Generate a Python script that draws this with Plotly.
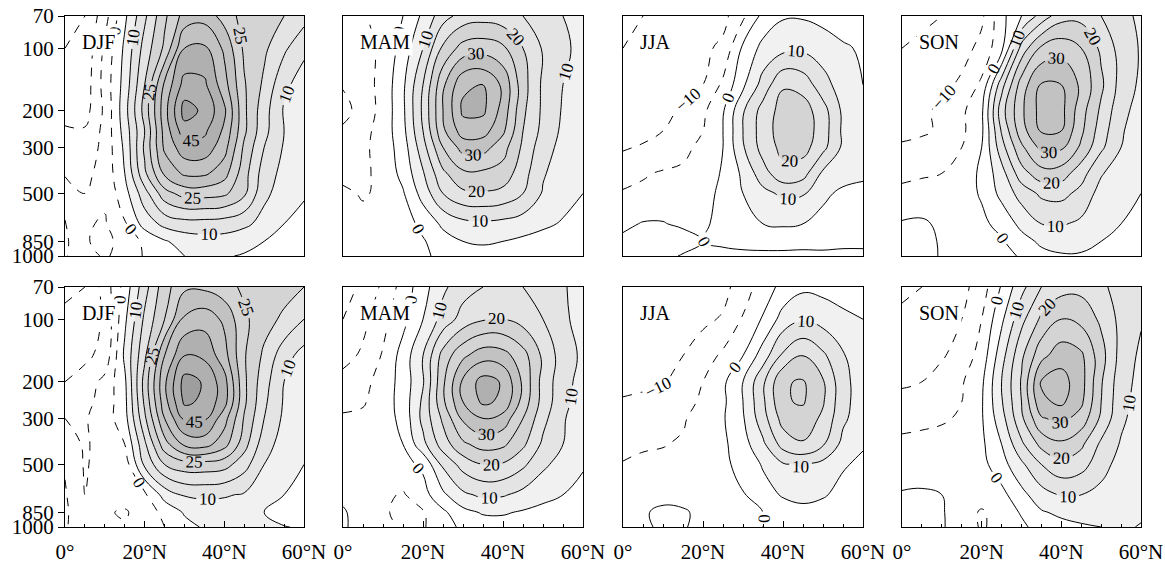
import math
import plotly.graph_objects as go

# ---------------- data ----------------
lats = [0, 5, 10, 15, 20, 25, 30, 35, 40, 45, 50, 55, 60]
levels = [1000, 850, 700, 500, 400, 300, 250, 200, 150, 100, 70]
seasons = ["DJF", "MAM", "JJA", "SON"]

# zonal wind (m/s), rows follow `levels`, columns follow `lats`
u_top_djf = [
    [0.5, -3.5, -5.5, -3.5, 0.5, 3, 5, 6, 5.5, 4.5, 3, 2, 1],
    [1, -4.5, -6.5, -3, 1, 4.5, 7, 8, 8, 7, 5, 3.5, 2.5],
    [0.5, -4.5, -5.5, -0.5, 7, 11.5, 13, 13, 12.5, 11, 8.5, 5, 3.5],
    [-3.5, -5, -4, 3, 13, 23, 27, 27, 26, 21, 11, 8, 5.5],
    [-5.3, -6, -3.5, 5, 19, 31, 36, 36, 32, 22, 12.5, 8.5, 6],
    [-7, -8, -3.5, 6, 21, 36, 43, 43, 37, 24, 15, 9.5, 6.5],
    [-9, -9.5, -3.5, 7, 20, 37, 48, 46, 39, 26, 16.5, 10, 6.5],
    [-13, -12, -4, 8, 22, 38, 52, 49, 41, 26, 17, 9.5, 6],
    [-14, -13, -3, 7, 20, 36, 47, 46, 37, 25.5, 19, 11, 8],
    [-15, -14, -4, 6, 17, 26, 40, 41, 34, 24, 21, 16, 11],
    [-18, -15, -7, 4, 14, 24, 32, 33, 28, 23, 22, 20, 17],
]
u_top_mam = [
    [-2, -2.5, -3, -2.5, -1, 1.5, 3, 3.5, 3, 2.5, 2, 1.5, 1],
    [-2.5, -3, -3, -2.5, -0.5, 3, 5, 5.5, 5, 4, 3, 2, 1.5],
    [-3, -3.5, -3.5, -2.5, 1.5, 6, 8.5, 9, 8.5, 7.5, 6, 4.5, 3.5],
    [-4, -5.5, -4, -0.5, 7, 15, 19, 19.5, 18.5, 15, 9.5, 7, 5],
    [-6.5, -6, -3.5, 1.5, 9.5, 19, 24, 24, 23, 17, 10.5, 7.5, 5.5],
    [-8, -6, -3, 2.5, 13, 25, 32, 32, 27, 19, 12, 8.5, 6],
    [-9, -6.5, -3, 3.5, 15, 29, 37.5, 37, 31, 20, 13.5, 9, 6.5],
    [-12, -7.5, -3.5, 4, 16, 30, 41, 41, 33, 21, 14, 9.5, 7],
    [-9.5, -7, -3.5, 4, 15, 29, 39, 40, 34, 22, 14, 10, 7.5],
    [-8, -6.5, -4, 2, 10, 21, 27, 28, 26, 20, 14.5, 11, 8.5],
    [-6, -5.5, -3, 0, 6, 13, 17, 18, 17, 15, 12, 10, 8.5],
]
u_top_jja = [
    [1.5, 2, 1.5, -0.5, -1.5, -1.5, -1.5, -1.5, -1.5, -1.5, -1, -1, -0.8],
    [1, 3, 4, 2.5, 0, 1, 2, 2.5, 2.5, 2, 1.5, 1, 0.8],
    [-1, 0.3, 0.3, -1, -0.8, 1.5, 3.5, 5, 5.5, 5, 3.5, 2.5, 2],
    [-4.5, -4, -3.5, -3, -1.5, 1, 5, 8.5, 11, 10.5, 6, 4, 3.5],
    [-7, -5.5, -4.5, -4, -2.5, 0.5, 6, 13, 18.5, 17, 9, 7, 6],
    [-10.5, -9.5, -8.5, -6.5, -3.5, 0, 9.5, 17, 21.5, 22, 16.5, 9, 6.5],
    [-12.5, -11.5, -10, -8, -5, 0, 10, 17.5, 22.5, 23, 17.5, 9, 6.5],
    [-14, -13, -11, -9.5, -6, -0.5, 9.5, 17, 22, 22.5, 17, 9, 6.5],
    [-14.5, -13.5, -12.5, -11.5, -10, -4, 4, 12, 19.5, 18, 12, 7.5, 5],
    [-15, -14, -13, -12, -11, -9, 1, 6.5, 8.5, 9, 7.5, 5.5, 4.5],
    [-16, -15, -14, -13, -12, -11.5, -6, 1.5, 4.5, 4.5, 3.5, 3, 2.5],
]
u_top_son = [
    [1, 1.2, -0.3, -1.5, -2, -1.5, 0.5, 3.5, 4.5, 4.5, 4, 3, 2.5],
    [1, 1.5, -0.5, -2, -2, -0.5, 3, 6, 7, 6.5, 5, 4.5, 3.5],
    [0.5, 0.8, -1, -2.5, -1, 1.5, 6.5, 10, 10.5, 9, 6.5, 5, 4.8],
    [-4, -3.5, -3, -2, 0.5, 6.5, 12, 16, 16.5, 13.5, 8, 6, 5],
    [-6, -5.5, -5, -3, 1, 8, 18, 23, 22.5, 17, 10.5, 7, 5.5],
    [-9.5, -9, -8, -5, 0, 13, 24, 31.5, 31, 24, 16, 10, 7],
    [-11, -10.5, -9.5, -6, -1, 15.5, 28, 35.5, 35, 26, 17.5, 10.5, 7.5],
    [-12, -11, -9, -6, -1, 18, 29, 37, 36.5, 27, 19, 11.5, 8],
    [-13, -12.5, -11.5, -9, -4, 13, 27.5, 35.5, 35, 29, 21, 13, 9],
    [-15, -14, -13, -12, -8.5, -1.5, 17, 26, 28, 25, 19, 13, 9.5],
    [-17, -16, -15, -13, -11, -1.5, 5, 12, 18, 18.5, 15, 11.5, 9],
]
u_bot_djf = [
    [0.5, -3, -4, -4.5, -3, 0, 3.5, 5.5, 6, 6, 5.5, 5.2, 4.5],
    [1, -4.5, -4.5, -5.5, -3, 1.5, 5.5, 7, 7.5, 7, 5, 3, 2],
    [0.5, -5, -3.5, -3, -1, 7, 10.5, 11, 10.5, 9.5, 7.5, 5, 3.5],
    [-0.5, -5.5, -3, -3, 11, 20, 23, 23, 22, 17, 10, 7, 5],
    [-3, -5.5, -3.5, 0, 14, 28, 36, 37, 32, 22, 12, 8, 5.5],
    [-5, -5.5, -2.5, 3, 19, 35, 46, 46, 37, 24.5, 15, 9, 6],
    [-7, -6.5, -3, 3.5, 21, 38, 51, 49, 42, 26, 16, 9.5, 6.5],
    [-10, -8, -3.5, 4, 22, 39, 52, 49.5, 42, 26, 17, 10, 6.5],
    [-12, -11, -8.5, 6, 19, 35, 45, 44, 37, 25.5, 19, 12, 8],
    [-13, -12, -9.5, 4, 16, 25, 36, 38, 34, 26, 22, 19, 15],
    [-17, -15, -8, 2, 13, 23, 29, 29, 27, 24, 23, 22, 20],
]
u_bot_mam = [
    [0.5, -1.5, -3.5, -5.5, -5.5, -2, 1, 2.5, 3, 3, 2.5, 2.5, 3],
    [0.5, -2, -4.5, -6, -5.5, -1, 3.5, 5.5, 5.5, 4.5, 3.5, 2.5, 2],
    [-1, -2, -4, -5.5, -2, 4, 9, 11, 10.5, 8.5, 6.5, 5, 3.5],
    [-2, -2.5, -2.5, -1.5, 1, 11, 17, 20, 19.5, 16, 11, 8, 5.5],
    [-3, -3, -2.5, 0, 8.5, 17.5, 24, 27, 26, 21, 14, 10, 6.5],
    [-4.5, -4, -2.5, 1.5, 11.5, 21, 31, 35, 33, 25, 16.5, 10.5, 7],
    [-6, -5.5, -2.5, 2, 11, 24, 35, 41, 39, 28, 18, 11.5, 7.5],
    [-8, -6.5, -3, 2, 9.5, 24, 36, 42, 39.5, 29, 18, 12, 8],
    [-12, -9, -4.5, 2, 10, 22, 29, 33, 32, 27, 19, 12.5, 9],
    [-15, -11.5, -6.5, -1.5, 5, 12, 17, 19.5, 20, 18, 15, 11, 8],
    [-17, -14, -9, -3, 3, 9, 13, 15, 16, 15, 13, 10.5, 8],
]
u_bot_jja = [
    [-1.5, -0.5, 0.5, 0.3, -1, -1.5, -1, 0, 1.5, 2, 2, 1.5, 1],
    [-1.5, -0.5, 1, 0.5, -1, -1.5, -1, 0, 2.5, 3.5, 3, 2, 1.5],
    [-2.5, -2, -1.5, -1.5, -1.5, -1, -0.3, 3, 5.5, 6.5, 5.5, 3.5, 2.5],
    [-4.8, -4.2, -4, -3.5, -2.5, -1, 1.5, 5.5, 9.5, 10.5, 8.5, 5.5, 4],
    [-6, -5.5, -5.2, -4.5, -2.5, -1, 3, 9, 17, 19.5, 15.5, 8.5, 5.5],
    [-8, -7.5, -7, -5.5, -3, -0.5, 4.5, 13, 22, 23, 19, 11, 7],
    [-9.5, -9, -8.5, -7, -4, -1, 5, 14, 24.5, 25.5, 20.5, 11.5, 7.5],
    [-11.5, -11, -10.5, -8, -5, -1, 5, 14, 24.5, 25.5, 20.5, 11.5, 7.5],
    [-12.5, -12, -11.5, -10, -7.5, -4, 0, 7.5, 16, 20, 16, 10.5, 7],
    [-13, -12.5, -12, -11.5, -11, -9.5, -4.5, 0.5, 7, 9.5, 8, 6, 5],
    [-15, -14, -13, -12.5, -12, -11.5, -7.5, -2.5, 1.5, 4, 3.5, 3, 2.5],
]
u_bot_son = [
    [1, 1.2, 0.5, -2.5, -5.5, -3.5, -1, 2, 3.5, 4.5, 5, 5.5, 4.8],
    [1, 1.5, 0.5, -3, -5.5, -3, 0.5, 4.5, 6, 6.5, 6.5, 6, 5.5],
    [0.5, 0.8, 0, -2, -3, -1.5, 3.5, 8, 10.5, 10, 8.5, 6.5, 5],
    [-3, -3, -3, -2.5, -1.5, 3, 9, 15, 18.5, 17, 12, 8, 5.5],
    [-4, -3.8, -3.5, -3, -1, 5, 14, 21.5, 24, 21, 14, 9.5, 6.5],
    [-6.5, -6, -5.5, -4.5, -0.5, 8, 19, 29.5, 31.5, 28, 19, 11, 7.5],
    [-9, -8.5, -7, -5, -0.5, 9.5, 20, 34, 36, 31, 20, 11.5, 8],
    [-10.5, -10, -8, -5.5, -1, 10, 20.5, 35.5, 37, 32, 20.5, 12, 8.5],
    [-12.5, -12, -10.5, -8, -3, 8, 19, 28.5, 33, 31, 22, 13, 9],
    [-14, -13, -12, -10, -5, 4, 13.5, 21, 25, 23.5, 19, 13.5, 10.5],
    [-16, -15, -13.5, -11.5, -7.5, 0.5, 8.5, 15, 18, 18.5, 16, 13, 11],
]

# contour values that carry a label in each panel
labels_top = {"DJF": [-10, 0, 10, 25, 45], "MAM": [0, 10, 20, 30],
              "JJA": [-10, 0, 10, 20], "SON": [-10, 0, 10, 20, 30]}
labels_bot = {"DJF": [0, 10, 25, 45], "MAM": [0, 10, 20, 30],
              "JJA": [-10, 0, 10], "SON": [-10, 0, 10, 20, 30]}

ytick_vals = [70, 100, 200, 300, 500, 850, 1000]
ytick_text = ["70", "100", "200", "300", "500", "850", "1000"]
xtick_vals = [0, 20, 40, 60]
xtick_text = ["0°", "20°N", "40°N", "60°N"]

line_levels = list(range(-20, 60, 5))
shade_edges = [5, 10, 20, 30, 40, 50]
shade_colors = ["#ffffff", "#f1f1f1", "#e4e4e4", "#d4d4d4", "#c2c2c2", "#b0b0b0", "#9e9e9e"]

# ---------------- layout geometry (pixels) ----------------
W, H = 1165, 565
col_l = [65, 343, 623, 902]
col_r = [304, 583, 863, 1141]
row_t = [16, 287]
row_b = [256, 527]
SERIF = "Liberation Serif, Times New Roman, serif"

def px(xs):
    return xs / W

def py(ys):
    return 1 - ys / H

# fill colourscale (plotly maps band midpoints between start-size/2 and end+size/2)
f_start, f_end, f_size = 5, 55, 5
lo, hi = f_start - f_size / 2, f_end + f_size / 2
def pos(v):
    return (v - lo) / (hi - lo)
fill_cs = [[0, shade_colors[0]]]
for i, e in enumerate(shade_edges):
    fill_cs.append([pos(e), shade_colors[i]])
    fill_cs.append([pos(e), shade_colors[i + 1]])
fill_cs.append([1, shade_colors[-1]])

panels = [
    (0, 0, "DJF", u_top_djf), (0, 1, "MAM", u_top_mam), (0, 2, "JJA", u_top_jja), (0, 3, "SON", u_top_son),
    (1, 0, "DJF", u_bot_djf), (1, 1, "MAM", u_bot_mam), (1, 2, "JJA", u_bot_jja), (1, 3, "SON", u_bot_son),
]

fig = go.Figure()
annotations = []
layout_axes = {}
LABEL_PAD_LEVELS = 45   # empty far-away levels: lets plotly place several labels on one line

for k, (r, c, name, z) in enumerate(panels, start=1):
    xa = "x" if k == 1 else f"x{k}"
    ya = "y" if k == 1 else f"y{k}"
    zmin = min(min(row) for row in z)
    zmax = max(max(row) for row in z)
    labset = (labels_top if r == 0 else labels_bot)[name]

    fig.add_trace(go.Contour(
        x=lats, y=levels, z=z, xaxis=xa, yaxis=ya,
        autocontour=False,
        contours=dict(start=f_start, end=f_end, size=f_size, coloring="fill", showlines=False),
        colorscale=fill_cs, showscale=False, line=dict(width=0, smoothing=1.2),
        hoverinfo="skip",
    ))
    for lev in line_levels:
        if lev < zmin or lev > zmax:
            continue
        dashed = lev < 0 or (name == "DJF" and lev == 0)
        labelled = lev in labset
        if labelled:
            cont = dict(start=lev, end=lev + 1000 * LABEL_PAD_LEVELS, size=1000, coloring="none",
                        showlabels=True, labelformat="d",
                        labelfont=dict(family=SERIF, size=17, color="black"))
        else:
            cont = dict(start=lev, end=lev, size=5, coloring="none", showlabels=False)
        fig.add_trace(go.Contour(
            x=lats, y=levels, z=z, xaxis=xa, yaxis=ya,
            autocontour=False, contours=cont,
            line=dict(color="black", width=1, dash="dash" if dashed else "solid", smoothing=1.2),
            showscale=False, hoverinfo="skip",
        ))

    xdom = [px(col_l[c]), px(col_r[c])]
    ydom = [py(row_b[r]), py(row_t[r])]
    xaxis = dict(domain=xdom, range=[0, 60], showline=True, mirror=True, linecolor="black",
                 linewidth=1, showgrid=False, zeroline=False, anchor=ya, automargin=False)
    if r == 1:
        xaxis.update(tickmode="array", tickvals=xtick_vals, ticktext=xtick_text, ticks="inside",
                     ticklen=6, tickcolor="black", ticklabelstandoff=6,
                     tickfont=dict(family=SERIF, size=21, color="black"),
                     minor=dict(ticks="inside", ticklen=3, tickmode="linear", tick0=0, dtick=5,
                                tickcolor="black"))
    else:
        xaxis.update(showticklabels=False, ticks="")
    yaxis = dict(domain=ydom, type="log", range=[math.log10(1000), math.log10(70)],
                 showline=True, mirror=True, linecolor="black", linewidth=1,
                 showgrid=False, zeroline=False, anchor=xa, automargin=False)
    if c == 0:
        yaxis.update(tickmode="array", tickvals=ytick_vals, ticktext=ytick_text, ticks="outside",
                     ticklen=6, tickcolor="black",
                     tickfont=dict(family=SERIF, size=21, color="black"))
    else:
        yaxis.update(showticklabels=False, ticks="")
    layout_axes["xaxis" if k == 1 else f"xaxis{k}"] = xaxis
    layout_axes["yaxis" if k == 1 else f"yaxis{k}"] = yaxis

    annotations.append(dict(
        xref="paper", yref="paper", x=px(col_l[c] + 14), y=py(row_t[r] + 26),
        xanchor="left", yanchor="middle", text=name, showarrow=False,
        font=dict(family=SERIF, size=20, color="black"), bgcolor="white", borderpad=2,
    ))

fig.update_layout(
    width=W, height=H, margin=dict(l=0, r=0, t=0, b=0, autoexpand=False),
    paper_bgcolor="white", plot_bgcolor="white", showlegend=False,
    annotations=annotations, **layout_axes,
)
# make the page exactly the size of the figure (no default body margin / scrollbars)
page_css = ("document.documentElement.style.margin='0';document.documentElement.style.padding='0';"
            "document.documentElement.style.overflow='hidden';"
            "document.body.style.margin='0';document.body.style.padding='0';"
            "document.body.style.overflow='hidden';")
fig.write_html("out.html", post_script=page_css, config={"displayModeBar": False})
